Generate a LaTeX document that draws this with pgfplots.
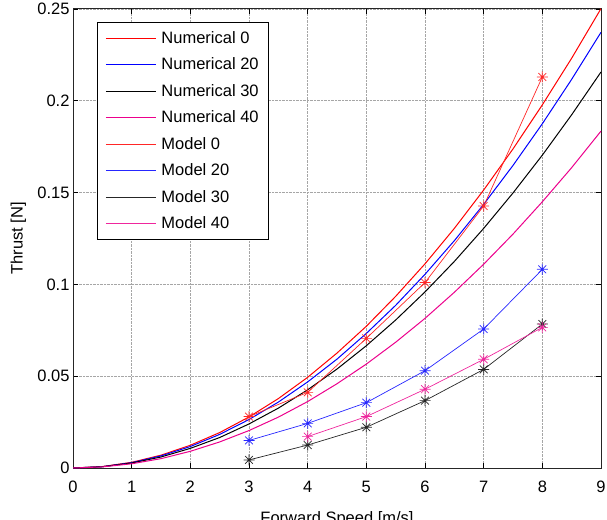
\documentclass[border=0pt]{standalone}
\usepackage{pgfplots}
\pgfplotsset{compat=1.18}
\usepackage{fontspec}
\setmainfont{Liberation Sans}
\newcommand\ff{\fontsize{16.5}{19.8}\selectfont}
\pgfdeclareplotmark{mast}{%
  \pgfpathmoveto{\pgfqpoint{-\pgfplotmarksize}{0pt}}\pgfpathlineto{\pgfqpoint{\pgfplotmarksize}{0pt}}%
  \pgfpathmoveto{\pgfqpoint{0pt}{-\pgfplotmarksize}}\pgfpathlineto{\pgfqpoint{0pt}{\pgfplotmarksize}}%
  \pgfpathmoveto{\pgfqpoint{-0.707\pgfplotmarksize}{-0.707\pgfplotmarksize}}\pgfpathlineto{\pgfqpoint{0.707\pgfplotmarksize}{0.707\pgfplotmarksize}}%
  \pgfpathmoveto{\pgfqpoint{-0.707\pgfplotmarksize}{0.707\pgfplotmarksize}}\pgfpathlineto{\pgfqpoint{0.707\pgfplotmarksize}{-0.707\pgfplotmarksize}}%
  \pgfusepathqstroke}
\begin{document}
\begin{tikzpicture}
\begin{axis}[
  scale only axis, width=528pt, height=459pt,
  xmin=0, xmax=9, ymin=0, ymax=0.25,
  xtick={0,1,...,9}, ytick={0,0.05,0.1,0.15,0.2,0.25},
  scaled y ticks=false,
  /pgf/number format/assume math mode=true,
  yticklabel style={/pgf/number format/fixed, /pgf/number format/precision=2},
  tick align=inside, major tick length=5pt,
  tick style={black, line width=0.6pt},
  axis line style={black!85, line width=1pt},
  grid=major, major grid style={gray!70, densely dotted, line width=0.7pt},
  tick label style={font=\ff},
  xticklabel style={anchor=base, yshift=-24pt},
  xlabel={Forward Speed [m/s]}, ylabel={Thrust [N]},
  every axis x label/.style={at={(axis description cs:0.5,-0.1216)}, anchor=base, font=\ff},
  every axis y label/.style={at={(axis description cs:-0.0953,0.5)}, anchor=base, rotate=90, font=\ff},
  legend style={at={(axis description cs:0.0455,0.9717)}, anchor=north west,
    line width=0.9pt, fill=white, font=\ff, row sep=9pt,
    inner xsep=8pt, inner ysep=7pt},
  legend cell align=left,
  /tikz/every odd column/.append style={column sep=3pt},
  legend image code/.code={\draw[#1] (0pt,0pt) -- (50pt,0pt);},
]
% smooth curves (Numerical)
\addplot[draw=red, line width=1pt] coordinates {(0,0) (0.5,0.0008) (1,0.0031) (1.5,0.007) (2,0.0124) (2.5,0.0193) (3,0.0278) (3.5,0.0378) (4,0.0494) (4.5,0.0626) (5,0.0772) (5.5,0.0935) (6,0.1112) (6.5,0.1305) (7,0.1514) (7.5,0.1738) (8,0.1978) (8.5,0.2232) (9,0.2502)};
\addlegendentry{Numerical 0}
\addplot[draw=blue, line width=1pt] coordinates {(0,0) (0.5,0.0007) (1,0.0029) (1.5,0.0066) (2,0.0117) (2.5,0.0183) (3,0.0264) (3.5,0.0359) (4,0.0469) (4.5,0.0593) (5,0.0733) (5.5,0.0886) (6,0.1055) (6.5,0.1238) (7,0.1436) (7.5,0.1648) (8,0.1875) (8.5,0.2117) (9,0.2373)};
\addlegendentry{Numerical 20}
\addplot[draw=black, line width=1pt] coordinates {(0,0) (0.5,0.0007) (1,0.0027) (1.5,0.006) (2,0.0107) (2.5,0.0166) (3,0.024) (3.5,0.0326) (4,0.0426) (4.5,0.0539) (5,0.0666) (5.5,0.0806) (6,0.0959) (6.5,0.1125) (7,0.1305) (7.5,0.1498) (8,0.1704) (8.5,0.1924) (9,0.2157)};
\addlegendentry{Numerical 30}
\addplot[draw=magenta, line width=1pt] coordinates {(0,0) (0.5,0.0006) (1,0.0023) (1.5,0.0051) (2,0.0091) (2.5,0.0142) (3,0.0204) (3.5,0.0277) (4,0.0362) (4.5,0.0459) (5,0.0566) (5.5,0.0685) (6,0.0815) (6.5,0.0957) (7,0.111) (7.5,0.1274) (8,0.145) (8.5,0.1636) (9,0.1835)};
\addlegendentry{Numerical 40}
% marker series (Model)
\addplot[draw=red!85, line width=0.7pt, mark=mast, mark size=5.5pt] coordinates {(3,0.028) (4,0.0412) (5,0.0706) (6,0.101) (7,0.1427) (8,0.213)};
\addlegendentry{Model 0}
\addplot[draw=blue!85, line width=0.7pt, mark=mast, mark size=5.5pt] coordinates {(3,0.015) (4,0.0243) (5,0.0356) (6,0.053) (7,0.0757) (8,0.1082)};
\addlegendentry{Model 20}
\addplot[draw=black!85, line width=0.7pt, mark=mast, mark size=5.5pt] coordinates {(3,0.0044) (4,0.0125) (5,0.0222) (6,0.0367) (7,0.0537) (8,0.0784)};
\addlegendentry{Model 30}
\addplot[draw=magenta!85, line width=0.7pt, mark=mast, mark size=5.5pt] coordinates {(4,0.0171) (5,0.028) (6,0.0429) (7,0.0592) (8,0.0766)};
\addlegendentry{Model 40}
\end{axis}
\pgfresetboundingbox
\path[use as bounding box] ([shift={(-73pt,-51pt)}]current axis.south west) rectangle ([shift={(6pt,9pt)}]current axis.north east);
\end{tikzpicture}
\end{document}
